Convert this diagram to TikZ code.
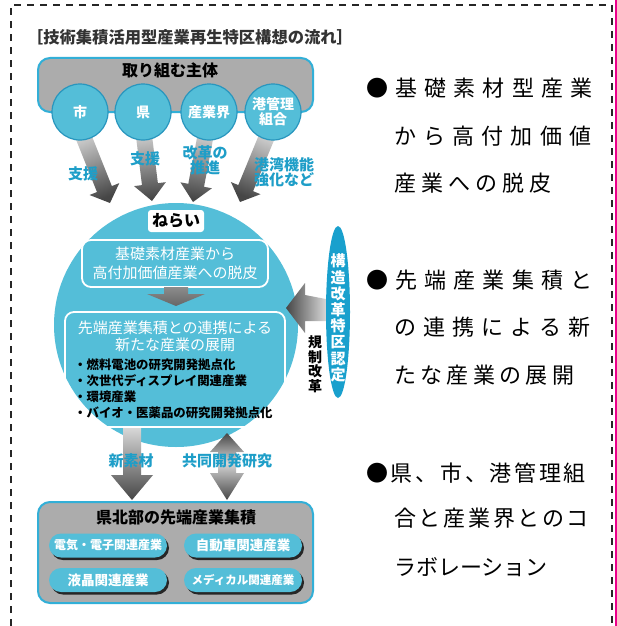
\documentclass[tikz,border=0pt]{standalone}
\usepackage{fontspec}
\setmainfont{Noto Sans CJK JP}
\usetikzlibrary{calc,shapes.geometric}
\definecolor{cteal}{RGB}{84,190,216}
\definecolor{cedge}{RGB}{40,150,190}
\definecolor{lblteal}{RGB}{30,158,200}
\definecolor{bteal}{RGB}{50,175,215}
\definecolor{boxgray}{RGB}{172,172,172}
\definecolor{ellblue}{RGB}{25,160,205}
\definecolor{arrlight}{RGB}{215,215,215}
\definecolor{arrdark}{RGB}{70,70,70}
\newcommand\setfs[2]{\fontsize{#1}{#2}\selectfont}
\newcommand\fatarrow[6]{%
  \path ($(#2)!#5!(#1)$) coordinate (fa-h);
  \shade[top color=arrlight, bottom color=arrdark, shading angle=#6]
    ($(#1)!#3!90:(#2)$) -- ($(fa-h)!#3!90:(#2)$) -- ($(fa-h)!#4!90:(#2)$) -- (#2)
    -- ($(fa-h)!#4!-90:(#2)$) -- ($(fa-h)!#3!-90:(#2)$) -- ($(#1)!#3!-90:(#2)$) -- cycle;}
\tikzset{
  frame/.style={draw=black!85, line width=1.8pt, dash pattern=on 7pt off 6pt},
  panel/.style={draw=bteal, fill=boxgray, line width=2pt, rounded corners=12pt},
  actor/.style={circle, minimum size=56pt, inner sep=0pt, fill=cteal, draw=cedge, line width=1.2pt, text=white, align=center, font=\bfseries\setfs{14}{15}},
  lbl/.style={text=lblteal, font=\bfseries\setfs{15}{15}, align=center, inner sep=0},
  wbox/.style={draw=white, line width=1.8pt, rounded corners=9pt},
  pill/.style={fill=cteal, rounded corners=12pt, minimum width=118pt, minimum height=24pt, text=white, inner sep=0},
  pillshadow/.style={fill=black!85, rounded corners=12pt, minimum width=118pt, minimum height=24pt},
  sidetext/.style={anchor=west, inner sep=0},
}
\begin{document}
\begin{tikzpicture}[x=1pt,y=-1pt]
\useasboundingbox (0,0) rectangle (617,626);
\fill[white] (0,0) rectangle (617,626);
\draw[frame] (11,626) -- (11,5) -- (612,5) -- (612,626);
\draw[magenta, line width=1.2pt] (616,0) -- (616,626);

\node[font=\bfseries\setfs{16.3}{16.3}, text=black!80] (title) at (190,37) {［技術集積活用型産業再生特区構想の流れ］};

\node[panel, minimum width=275pt, minimum height=54pt] (actors) at (175.5,85) {};
\node[font=\bfseries\setfs{16}{16}] (actT) at (170,70) {取り組む主体};

\coordinate (a1s) at (80,128); \coordinate (a1e) at (110,203);
\coordinate (a2s) at (143,128); \coordinate (a2e) at (152,201);
\coordinate (a3s) at (207,128); \coordinate (a3e) at (193,202);
\coordinate (a4s) at (270,129); \coordinate (a4e) at (240,202);
\fatarrow{a1s}{a1e}{8pt}{16pt}{15pt}{21.6}
\fatarrow{a2s}{a2e}{8pt}{16pt}{17pt}{7.6}
\fatarrow{a3s}{a3e}{8pt}{16pt}{17pt}{-11}
\fatarrow{a4s}{a4e}{8pt}{16pt}{15pt}{-22.9}

\node[actor] (shi) at (80,112) {市};
\node[actor] (ken) at (143,112) {県};
\node[actor] (sangyo) at (209,112) {産業界};
\node[actor] (kowan) at (273,112) {港管理\\組合};

\node[lbl] (l1) at (83,174) {支援};
\node[lbl] (l2) at (145,159) {支援};
\node[lbl] (l3) at (205,160) {改革の\\推進};
\node[lbl] (l4) at (284,172) {港湾機能\\強化など};

\node[circle, fill=cteal, minimum size=244pt, inner sep=0] (main) at (176,325) {};
\node[fill=white, rounded corners=3pt, minimum width=56pt, minimum height=22pt, inner sep=0, font=\bfseries\setfs{16}{16}] (nerai) at (176,221) {ねらい};

\node[wbox, minimum width=186pt, minimum height=47pt, text=white, align=center, font=\setfs{15}{19}] (goal1) at (175,263.5) {基礎素材産業から\\高付加価値産業への脱皮};
\shade[top color=black!45, bottom color=black!60] (164,287) -- (188,287) -- (188,294) -- (205,294) -- (176,306) -- (147,294) -- (164,294) -- cycle;

\node[wbox, minimum width=220pt, minimum height=115pt] (goal2) at (175,369.5) {};
\node[text=white, align=center, font=\setfs{15}{17}] (g2h) at (175,336.5) {先端産業集積との連携による\\新たな産業の展開};
\node[anchor=west, align=left, inner sep=0, font=\bfseries\setfs{12.4}{16}] (g2b) at (74,389) {・燃料電池の研究開発拠点化\\・次世代ディスプレイ関連産業\\・環境産業\\・バイオ・医薬品の研究開発拠点化};

\node[ellipse, fill=ellblue, minimum width=24pt, minimum height=172pt, inner sep=0] (tokku) at (338,312) {};
\node[text=white, font=\bfseries\setfs{15}{16.2}, align=center, inner sep=0] (tokkuT) at (338,318) {構\\造\\改\\革\\特\\区\\認\\定};
\shade[left color=arrdark, right color=arrlight] (tokku.west) ++(0,-13) -- (305,295) -- (305,283) -- (286,308) -- (305,333) -- (305,321) -- ($(tokku.west)+(0,9)$) -- cycle;
\node[font=\bfseries\setfs{14}{14.5}, align=center, inner sep=0] (kisei) at (315,364) {規\\制\\改\\革};

\shade[top color=arrlight, bottom color=arrdark] (123,428) -- (141,428) -- (141,475) -- (153,475) -- (132,500) -- (111,475) -- (123,475) -- cycle;
\shade[top color=arrdark, bottom color=arrlight] (227,433) -- (244,452) -- (236,452) -- (236,463) -- (218,463) -- (218,452) -- (210,452) -- cycle;
\shade[top color=arrlight, bottom color=arrdark] (218,462.5) -- (236,462.5) -- (236,473) -- (244,473) -- (227,500) -- (210,473) -- (218,473) -- cycle;
\node[lbl] (l5) at (131,461) {新素材};
\node[lbl] (l6) at (227,461) {共同開発研究};

\node[panel, minimum width=275pt, minimum height=101pt] (cluster) at (175.5,552.5) {};
\node[font=\bfseries\setfs{16}{16}] (clT) at (176,517) {県北部の先端産業集積};
\node[pillshadow] at (110,548) {};
\node[pillshadow] at (245,548) {};
\node[pillshadow] at (110,582.5) {};
\node[pillshadow] at (245,582.5) {};
\node[pill, font=\bfseries\setfs{12}{12}] (p1) at (108,545.5) {電気・電子関連産業};
\node[pill, font=\bfseries\setfs{13.5}{13.5}] (p2) at (243,545.5) {自動車関連産業};
\node[pill, font=\bfseries\setfs{13.5}{13.5}] (p3) at (108,580) {液晶関連産業};
\node[pill, font=\bfseries\setfs{11.5}{11.5}] (p4) at (243,580) {メディカル関連産業};

\node[sidetext, font=\setfs{22}{22}\addfontfeatures{LetterSpace=32.7}] (r1a) at (366,88) {●基礎素材型産業};
\node[sidetext, font=\setfs{22}{22}\addfontfeatures{LetterSpace=32.7}] (r1b) at (394,136) {から高付加価値};
\node[sidetext, font=\setfs{22}{22}\addfontfeatures{LetterSpace=22.7}] (r1c) at (394,183) {産業への脱皮};
\node[sidetext, font=\setfs{22}{22}\addfontfeatures{LetterSpace=32.7}] (r2a) at (366,280) {●先端産業集積と};
\node[sidetext, font=\setfs{22}{22}\addfontfeatures{LetterSpace=32.7}] (r2b) at (394,327) {の連携による新};
\node[sidetext, font=\setfs{22}{22}\addfontfeatures{LetterSpace=19.7}] (r2c) at (394,375) {たな産業の展開};
\node[sidetext, font=\setfs{22}{22}\addfontfeatures{LetterSpace=12.3}] (r3a) at (366,473) {●県、市、港管理組};
\node[sidetext, font=\setfs{22}{22}\addfontfeatures{LetterSpace=12.3}] (r3b) at (394,518) {合と産業界とのコ};
\node[sidetext, font=\setfs{22}{22}] (r3c) at (394,567) {ラボレーション};
\end{tikzpicture}
\end{document}
